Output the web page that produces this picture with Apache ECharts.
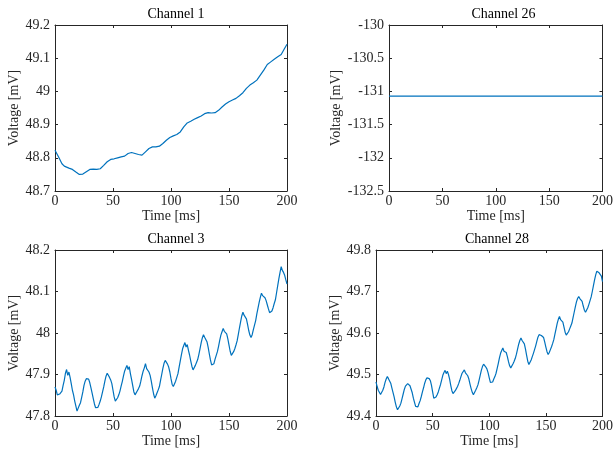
<!DOCTYPE html>
<html><head><meta charset="utf-8">
<script src="https://cdn.jsdelivr.net/npm/echarts@6/dist/echarts.min.js"></script>
<style>html,body{margin:0;padding:0;background:#fff}#c{width:616px;height:454px}</style>
</head><body><div id="c"></div>
<script>
// ---- data ----
const titles = ["Channel 1", "Channel 26", "Channel 3", "Channel 28"];
const xTicks = [0, 50, 100, 150, 200];
const yRanges = [[48.7, 49.2, 0.1], [-132.5, -130, 0.5], [47.8, 48.2, 0.1], [49.4, 49.8, 0.1]];

const ch1Time = [0,3,6,8,12,15,18,21,24,27,30,33,36,39,42,45,48,51,54,57,60,63,66,69,72,75,78,81,84,87,90,93,96,99,102,105,108,111,114,117,120,123,126,129,132,135,138,141,144,147,150,153,156,159,162,165,168,171,174,177,180,183,186,189,192,195,198,200];
const ch1Volt = [48.823,48.803,48.782,48.775,48.769,48.765,48.757,48.750,48.751,48.758,48.765,48.766,48.765,48.767,48.777,48.788,48.795,48.797,48.800,48.803,48.805,48.813,48.816,48.813,48.810,48.808,48.818,48.828,48.833,48.833,48.835,48.843,48.853,48.861,48.866,48.870,48.878,48.893,48.905,48.910,48.916,48.921,48.926,48.933,48.936,48.935,48.936,48.943,48.953,48.962,48.969,48.974,48.979,48.987,48.996,49.009,49.019,49.026,49.034,49.049,49.064,49.081,49.089,49.097,49.104,49.111,49.130,49.142];

const ch26Time = [0, 50, 100, 150, 200];
const ch26Volt = [-131.07, -131.07, -131.07, -131.07, -131.07];

// Channels 3 and 28 sampled every 1 ms from 0 to 200 ms
const ch3Volt = [47.870,47.862,47.851,47.848,47.853,47.851,47.860,47.874,47.886,47.903,47.912,47.898,47.906,47.893,47.878,47.862,47.851,47.836,47.824,47.812,
47.819,47.826,47.832,47.845,47.858,47.874,47.884,47.890,47.887,47.889,47.880,47.868,47.855,47.842,47.829,47.820,47.816,47.821,47.828,47.836,
47.846,47.858,47.870,47.884,47.896,47.903,47.898,47.893,47.887,47.878,47.862,47.846,47.836,47.839,47.844,47.851,47.860,47.872,47.883,47.896,
47.908,47.915,47.922,47.912,47.919,47.902,47.888,47.873,47.858,47.851,47.855,47.861,47.866,47.872,47.884,47.897,47.908,47.916,47.926,47.914,
47.918,47.906,47.898,47.884,47.868,47.853,47.843,47.849,47.856,47.863,47.871,47.886,47.900,47.915,47.927,47.934,47.930,47.925,47.918,47.906,
47.890,47.876,47.871,47.875,47.884,47.893,47.902,47.918,47.933,47.948,47.962,47.970,47.977,47.966,47.972,47.959,47.947,47.933,47.920,47.911,
47.914,47.922,47.929,47.936,47.948,47.962,47.976,47.988,47.996,47.990,47.986,47.979,47.966,47.950,47.935,47.923,47.919,47.926,47.937,47.946,
47.955,47.968,47.982,47.995,48.003,48.011,48.004,48.007,47.998,47.986,47.971,47.956,47.946,47.949,47.955,47.962,47.971,47.981,47.996,48.012,
48.027,48.041,48.050,48.043,48.046,48.034,48.021,48.006,47.995,47.989,47.996,48.008,48.019,48.030,48.046,48.060,48.074,48.086,48.096,48.090,
48.092,48.085,48.078,48.068,48.058,48.049,48.046,48.053,48.061,48.071,48.080,48.097,48.114,48.131,48.146,48.160,48.151,48.146,48.139,48.128,
48.118];

const ch28Volt = [49.482,49.471,49.462,49.458,49.452,49.455,49.462,49.470,49.481,49.489,49.495,49.490,49.487,49.479,49.468,49.457,49.446,49.433,49.422,49.415,
49.418,49.424,49.431,49.442,49.453,49.464,49.472,49.476,49.478,49.475,49.473,49.469,49.456,49.443,49.433,49.423,49.419,49.422,49.430,49.437,
49.447,49.458,49.468,49.479,49.487,49.492,49.489,49.490,49.485,49.474,49.458,49.443,49.441,49.446,49.451,49.458,49.467,49.476,49.487,49.498,
49.505,49.510,49.502,49.508,49.500,49.489,49.474,49.461,49.454,49.457,49.461,49.466,49.471,49.478,49.486,49.495,49.503,49.507,49.511,49.504,
49.506,49.497,49.489,49.477,49.466,49.457,49.451,49.455,49.462,49.468,49.475,49.486,49.498,49.510,49.519,49.525,49.521,49.518,49.513,49.504,
49.492,49.481,49.477,49.482,49.489,49.495,49.503,49.515,49.527,49.540,49.551,49.558,49.564,49.556,49.560,49.553,49.543,49.531,49.521,49.516,
49.519,49.526,49.532,49.539,49.549,49.561,49.573,49.582,49.588,49.582,49.584,49.574,49.561,49.546,49.532,49.524,49.528,49.535,49.543,49.551,
49.560,49.569,49.580,49.590,49.596,49.600,49.594,49.597,49.589,49.578,49.566,49.555,49.548,49.553,49.560,49.567,49.575,49.584,49.597,49.610,
49.623,49.633,49.640,49.632,49.635,49.626,49.614,49.602,49.595,49.597,49.603,49.610,49.617,49.624,49.637,49.650,49.663,49.675,49.683,49.688,
49.683,49.685,49.676,49.665,49.655,49.650,49.654,49.661,49.669,49.678,49.687,49.700,49.714,49.728,49.740,49.749,49.753,49.745,49.748,49.737,
49.724];

// ---- layout / styling ----
const FONT = "Liberation Serif";
const AX = "#262626";
const LINE = "#0072BD";
const grids = [
  {left: 55, top: 25, width: 232, height: 166, nameGap: 32},
  {left: 389, top: 25, width: 219, height: 166, nameGap: 46},
  {left: 55, top: 250, width: 232, height: 166, nameGap: 32},
  {left: 376, top: 250, width: 232, height: 166, nameGap: 33}
];

const pair = (ts, vs) => ts.map((t, i) => [t, vs[i]]);
const idx = vs => vs.map((v, i) => [i, v]);
const seriesData = [pair(ch1Time, ch1Volt), pair(ch26Time, ch26Volt), idx(ch3Volt), idx(ch28Volt)];

const option = {animation: false, grid: [], xAxis: [], yAxis: [], series: [], title: []};
grids.forEach((g, k) => {
  option.grid.push({left: g.left, top: g.top, width: g.width, height: g.height, containLabel: false});
  const lineStyle = {color: AX, width: 1};
  const tick = {show: true, inside: true, length: 3, lineStyle: {color: AX, width: 1}};
  const lab = {color: AX, fontFamily: FONT, fontSize: 14};
  option.xAxis.push({
    type: 'value', gridIndex: k, position: 'bottom', min: xTicks[0], max: xTicks[xTicks.length - 1], interval: 50,
    axisLine: {show: true, onZero: false, lineStyle}, axisTick: tick, splitLine: {show: false},
    axisLabel: Object.assign({margin: 3, showMinLabel: true, showMaxLabel: true}, lab),
    name: 'Time [ms]', nameLocation: 'middle', nameGap: 18, nameTextStyle: lab
  });
  option.xAxis.push({
    type: 'value', gridIndex: k, position: 'top', min: xTicks[0], max: xTicks[xTicks.length - 1], interval: 50,
    axisLine: {show: true, onZero: false, lineStyle}, axisTick: tick, splitLine: {show: false}, axisLabel: {show: false}
  });
  const [mn, mx, iv] = yRanges[k];
  option.yAxis.push({
    type: 'value', gridIndex: k, position: 'left', min: mn, max: mx, interval: iv,
    axisLine: {show: true, onZero: false, lineStyle}, axisTick: tick, splitLine: {show: false},
    axisLabel: Object.assign({margin: 5, showMinLabel: true, showMaxLabel: true}, lab),
    name: 'Voltage [mV]', nameLocation: 'middle', nameGap: g.nameGap, nameRotate: 90, nameTextStyle: lab
  });
  option.yAxis.push({
    type: 'value', gridIndex: k, position: 'right', min: mn, max: mx, interval: iv,
    axisLine: {show: true, onZero: false, lineStyle}, axisTick: tick, splitLine: {show: false}, axisLabel: {show: false}
  });
  option.series.push({
    type: 'line', xAxisIndex: 2 * k, yAxisIndex: 2 * k, data: seriesData[k], showSymbol: false, symbol: 'none',
    lineStyle: {color: LINE, width: 1.2}, clip: true
  });
  option.title.push({
    text: titles[k], left: g.left + g.width / 2, top: g.top - 23, textAlign: 'center',
    textStyle: {fontFamily: FONT, fontSize: 14, fontWeight: 'normal', color: '#000'}
  });
});

const chart = echarts.init(document.getElementById('c'), null, {renderer: 'canvas'});
chart.setOption(option);
</script></body></html>
